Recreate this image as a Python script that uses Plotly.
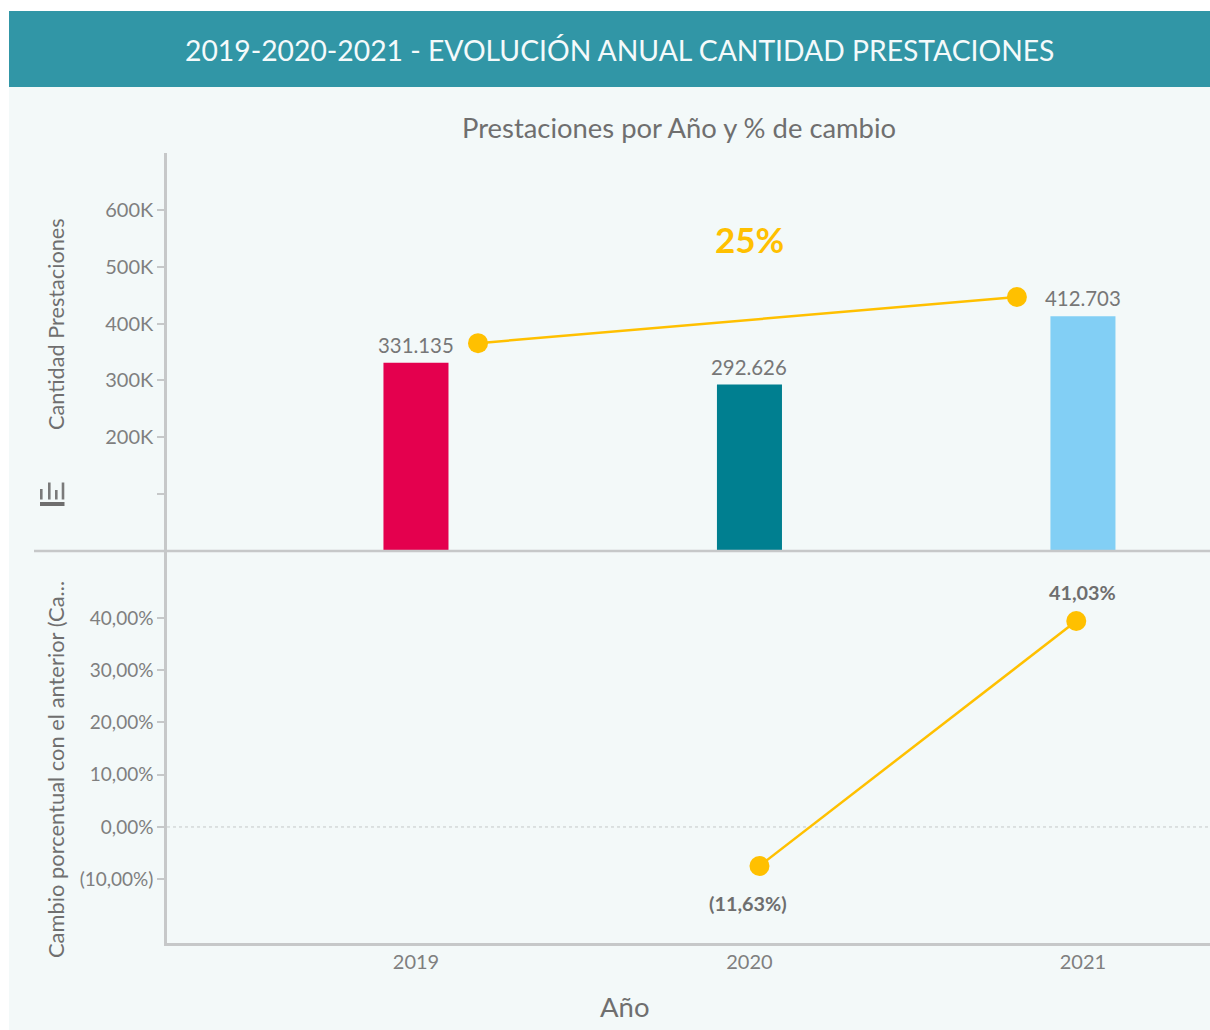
import plotly.graph_objects as go

W, H = 1210, 1030
years = [2019, 2020, 2021]
year_labels = ["2019", "2020", "2021"]
prestaciones = [331135, 292626, 412703]
prestaciones_labels = ["331.135", "292.626", "412.703"]
bar_colors = ["#E4004E", "#007F90", "#82CFF5"]

trend_x = [2019.186, 2020.802]
trend_y = [365600, 446700]
trend_label = "25%"

cambio_x = [2020.03, 2020.98]
cambio_y = [-7.46, 39.4]
cambio_label_x = [2019.995, 2021.0]
cambio_label_y = [-14.5, 45.0]
cambio_labels = ["(11,63%)", "41,03%"]

top_ticks = [100000, 200000, 300000, 400000, 500000, 600000]
top_ticktext = [" ", "200K", "300K", "400K", "500K", "600K"]
bottom_ticks = [-10, 0, 10, 20, 30, 40]
bottom_ticktext = ["(10,00%)", "0,00%", "10,00%", "20,00%", "30,00%", "40,00%"]

GRAY = "#7F7F7F"
AXIS = "#C6C8C9"
GOLD = "#FFC000"
FONT = "Lato"

def px(x): return x / W
def py(y): return 1 - y / H

fig = go.Figure()

fig.add_trace(go.Bar(
    x=years, y=prestaciones, width=0.195, marker=dict(color=bar_colors, line_width=0),
    xaxis="x", yaxis="y", hoverinfo="skip"))
fig.add_trace(go.Scatter(
    x=trend_x, y=trend_y, mode="lines+markers",
    line=dict(color=GOLD, width=2.5), marker=dict(color=GOLD, size=20),
    xaxis="x", yaxis="y", hoverinfo="skip"))
fig.add_trace(go.Scatter(
    x=cambio_x, y=cambio_y, mode="lines+markers",
    line=dict(color=GOLD, width=2.5), marker=dict(color=GOLD, size=20),
    xaxis="x2", yaxis="y2", hoverinfo="skip"))

xrange = [2018.2534, 2021.381]

shapes = [
    dict(type="rect", xref="paper", yref="paper", x0=px(9), x1=px(1210), y0=py(1030), y1=py(11),
         fillcolor="#F3F9F9", line_width=0, layer="below"),
    dict(type="rect", xref="paper", yref="paper", x0=px(9), x1=px(1210), y0=py(87), y1=py(11),
         fillcolor="#3196A6", line_width=0, layer="below"),
    dict(type="line", xref="paper", yref="paper", x0=px(34), x1=px(1210), y0=py(551), y1=py(551),
         line=dict(color=AXIS, width=2.5), layer="above"),
    dict(type="line", xref="x2", yref="y2", x0=xrange[0], x1=xrange[1], y0=0, y1=0,
         line=dict(color="#C4C8C8", width=1, dash="dot"), layer="below"),
    # icono de barras
    dict(type="rect", xref="paper", yref="paper", x0=px(40), x1=px(64.5), y0=py(506), y1=py(502),
         fillcolor="#6E6E6E", line_width=0),
]
for x0, top in [(40, 489), (48, 482.5), (55, 490), (61.7, 482.5)]:
    shapes.append(dict(type="rect", xref="paper", yref="paper", x0=px(x0), x1=px(x0 + 2.6),
                       y0=py(499.5), y1=py(top), fillcolor="#7A7A7A", line_width=0))

def paper_text(text, x, y, size, color="#6F6F6F", angle=0):
    return dict(text=text, xref="paper", yref="paper", x=px(x), y=py(y), xanchor="center",
                yanchor="middle", textangle=angle, showarrow=False,
                font=dict(size=size, color=color, family=FONT))

annotations = [
    paper_text("2019-2020-2021 - EVOLUCIÓN ANUAL CANTIDAD PRESTACIONES", 619, 50, 28.3, "#F4FAFB"),
    paper_text("Prestaciones por Año y % de cambio", 679, 128, 27.4),
    paper_text("Cantidad Prestaciones", 56, 324, 21.7, angle=-90),
    paper_text("Cambio porcentual con el anterior (Ca...", 55, 770, 21.9, angle=-90),
    paper_text("Año", 625, 1006, 27.5),
    dict(text="<b>" + trend_label + "</b>", xref="x", yref="y", x=2020, y=549500, xanchor="center",
         yanchor="middle", showarrow=False, font=dict(size=35, color=GOLD, family=FONT)),
]
for yr, val, lab in zip(years, prestaciones, prestaciones_labels):
    annotations.append(dict(text=lab, xref="x", yref="y", x=yr, y=val, yshift=18, xanchor="center",
                            yanchor="middle", showarrow=False,
                            font=dict(size=20.4, color="#777777", family=FONT)))
for lx, ly, lab in zip(cambio_label_x, cambio_label_y, cambio_labels):
    annotations.append(dict(text="<b>" + lab + "</b>", xref="x2", yref="y2", x=lx, y=ly, xanchor="center",
                            yanchor="middle", showarrow=False,
                            font=dict(size=19.8, color="#6E6E6E", family=FONT)))

top_axis = dict(domain=[py(551), py(153)], range=[0, 700000], tickmode="array", tickvals=top_ticks,
                ticktext=top_ticktext, ticks="outside", ticklen=7, tickcolor=AXIS, tickwidth=2,
                showgrid=False, zeroline=False, showline=True, linecolor=AXIS, linewidth=2.5,
                tickfont=dict(size=20, color=GRAY, family=FONT), anchor="x")
bottom_axis = dict(domain=[py(943), py(551)], range=[-22.2, 52.8], tickmode="array", tickvals=bottom_ticks,
                   ticktext=bottom_ticktext, ticks="outside", ticklen=7, tickcolor=AXIS, tickwidth=2,
                   showgrid=False, zeroline=False, showline=True, linecolor=AXIS, linewidth=2.5,
                   tickfont=dict(size=19, color=GRAY, family=FONT), anchor="x2")

fig.update_layout(
    width=W, height=H, autosize=False, margin=dict(l=0, r=0, t=0, b=0),
    paper_bgcolor="white", plot_bgcolor="rgba(0,0,0,0)", showlegend=False,
    font=dict(family=FONT),
    xaxis=dict(domain=[px(167), 1], range=xrange, showticklabels=False, ticks="", showgrid=False,
               zeroline=False, showline=False, anchor="y"),
    yaxis=top_axis,
    xaxis2=dict(domain=[px(167), 1], range=xrange, tickmode="array", tickvals=years, ticktext=year_labels,
                ticks="", showgrid=False, zeroline=False, showline=True, linecolor=AXIS, linewidth=2.5,
                ticklabelstandoff=-1,
                tickfont=dict(size=20, color=GRAY, family=FONT), anchor="y2"),
    yaxis2=bottom_axis,
    shapes=shapes, annotations=annotations,
)

fig.write_html("out.html", config=dict(displayModeBar=False),
               post_script="document.body.style.margin='0';")
